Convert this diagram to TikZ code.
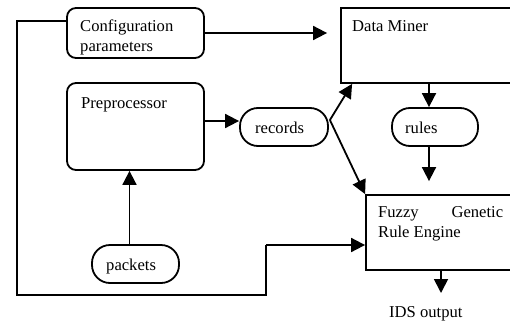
\documentclass[tikz,border=0pt]{standalone}
\usepackage{fontspec}
\setmainfont{Liberation Serif}
\usetikzlibrary{arrows.meta}
\begin{document}
\begin{tikzpicture}[x=1pt,y=-1pt,
  every node/.style={font=\fontsize{16.6}{20}\selectfont},
  ln/.style={line width=1.8pt},
  arr/.style={ln,-{Triangle[length=14pt,width=14pt]}},
  rbox/.style={draw,line width=1.8pt,rounded corners=9pt,inner sep=0pt},
  sbox/.style={draw,line width=1.8pt,inner sep=0pt},
  pill/.style={draw,line width=1.8pt,rounded corners=18pt,inner sep=0pt},
  txt/.style={anchor=base west,inner sep=0pt}]
\useasboundingbox (0,0) rectangle (510,321);
\clip (0,0) rectangle (510,321);
% boxes
\node[rbox,minimum width=137pt,minimum height=50pt] (cfg) at (135.5,33) {};
\node[rbox,minimum width=137pt,minimum height=87pt] (pre) at (135.5,126.5) {};
\node[sbox,minimum width=189pt,minimum height=75pt] (dm) at (435.5,45.5) {};
\node[sbox,minimum width=164pt,minimum height=75pt] (fz) at (448,232.5) {};
\node[pill,minimum width=88pt,minimum height=38pt] (rec) at (284,127) {};
\node[pill,minimum width=86pt,minimum height=38pt] (rul) at (435,127) {};
\node[pill,minimum width=87pt,minimum height=38pt] (pkt) at (135.5,264) {};
% texts (multi-line nodes: base = last line)
\node[txt,align=left] (tcfg) at (80,52) {Configuration\\parameters};
\node[txt] (tpre) at (81,108) {Preprocessor};
\node[txt] (tdm) at (352,31) {Data Miner};
\node[txt] (trec) at (255,133) {records};
\node[txt] (trul) at (405,133) {rules};
\node[txt] (tpkt) at (106,270) {packets};
\node[txt,align=left] (tfz) at (378,237) {\makebox[125pt][s]{Fuzzy Genetic}\\Rule Engine};
\node[txt] (tids) at (389,317) {IDS output};
% connectors
\coordinate (cfgtip) at ([xshift=-13pt]dm.west |- cfg.east);
\draw[arr] (cfg.east) -- (cfgtip);
\draw[arr] ([yshift=5.5pt]pre.east) -- ([yshift=6pt]rec.west);
\coordinate (rc) at ([yshift=7pt,xshift=1pt]rec.east);
\draw[arr] (rc) -- ([xshift=12pt]dm.south west);
\draw[arr] (rc) -- (fz.north west);
\draw[arr] ([xshift=-6pt]dm.south -| rul.north) -- ([xshift=-6pt]rul.north);
\coordinate (ftip) at ([xshift=-6pt,yshift=13pt]fz.north -| rul.south);
\draw[arr] ([xshift=-6pt]rul.south) -- (ftip);
\draw[arr] ([xshift=-6pt]pkt.north) -- ([xshift=-6pt]pre.south);
\coordinate (l1) at (17,21);
\coordinate (l2) at (17,295);
\coordinate (l3) at (266,295);
\coordinate (l4) at (266,245);
\draw[ln] ([yshift=12pt]cfg.west) -- (l1) -- (l2) -- (l3) -- (l4);
\draw[arr] (l4) -- (fz.west |- l4);
\coordinate (idstip) at (441,293);
\draw[arr] (fz.south -| idstip) -- (idstip);
\end{tikzpicture}
\end{document}
